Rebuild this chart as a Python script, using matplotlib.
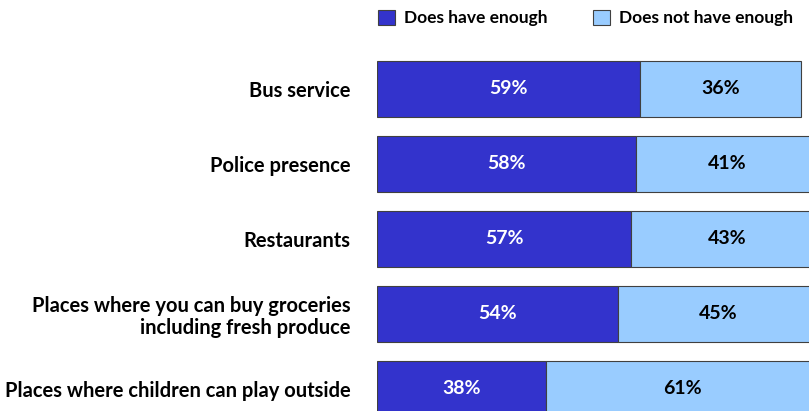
import matplotlib
matplotlib.use("Agg")
import matplotlib.pyplot as plt
import numpy as np

categories = [
    "Bus service",
    "Police presence",
    "Restaurants",
    "Places where you can buy groceries\nincluding fresh produce",
    "Places where children can play outside",
]
have_enough = [59, 58, 57, 54, 38]
not_enough = [36, 41, 43, 45, 61]
series_names = ["Does have enough", "Does not have enough"]

DARK = "#3333CC"
LIGHT = "#99CCFF"
EDGE = "#404040"

plt.rcParams["font.family"] = ["Lato", "DejaVu Sans"]
plt.rcParams["font.weight"] = "bold"

fig = plt.figure(figsize=(8.09, 4.11), dpi=100)
ax = fig.add_axes([377 / 809, -0.0377, 446 / 809, 0.9124])

y = np.arange(len(categories))
b1 = ax.barh(y, have_enough, height=0.75, color=DARK, edgecolor=EDGE, linewidth=0.8,
             label=series_names[0])
b2 = ax.barh(y, not_enough, left=have_enough, height=0.75, color=LIGHT, edgecolor=EDGE,
             linewidth=0.8, label=series_names[1])

for yi, h, n in zip(y, have_enough, not_enough):
    ax.text(h / 2, yi, f"{h}%", ha="center", va="center", color="white",
            fontsize=14, fontweight="bold")
    ax.text(h + n / 2, yi, f"{n}%", ha="center", va="center", color="black",
            fontsize=14, fontweight="bold")

ax.set_xlim(0, 100)
ax.set_ylim(len(categories) - 0.5, -0.5)
ax.set_yticks(y)
ax.set_yticklabels(categories, fontsize=14.5, fontweight="bold", ha="right",
                   linespacing=1.15)
ax.tick_params(axis="y", length=0, pad=19)
ax.set_xticks([])
for s in ax.spines.values():
    s.set_visible(False)

fig.legend(handles=[b1, b2], loc="center left", bbox_to_anchor=(378 / 809, 1 - 18 / 411),
           ncol=2, frameon=False, fontsize=12.5, handlelength=1.0, handleheight=1.0,
           handletextpad=0.5, columnspacing=2.6, borderaxespad=0, borderpad=0)

fig.savefig("out.png", dpi=100)
